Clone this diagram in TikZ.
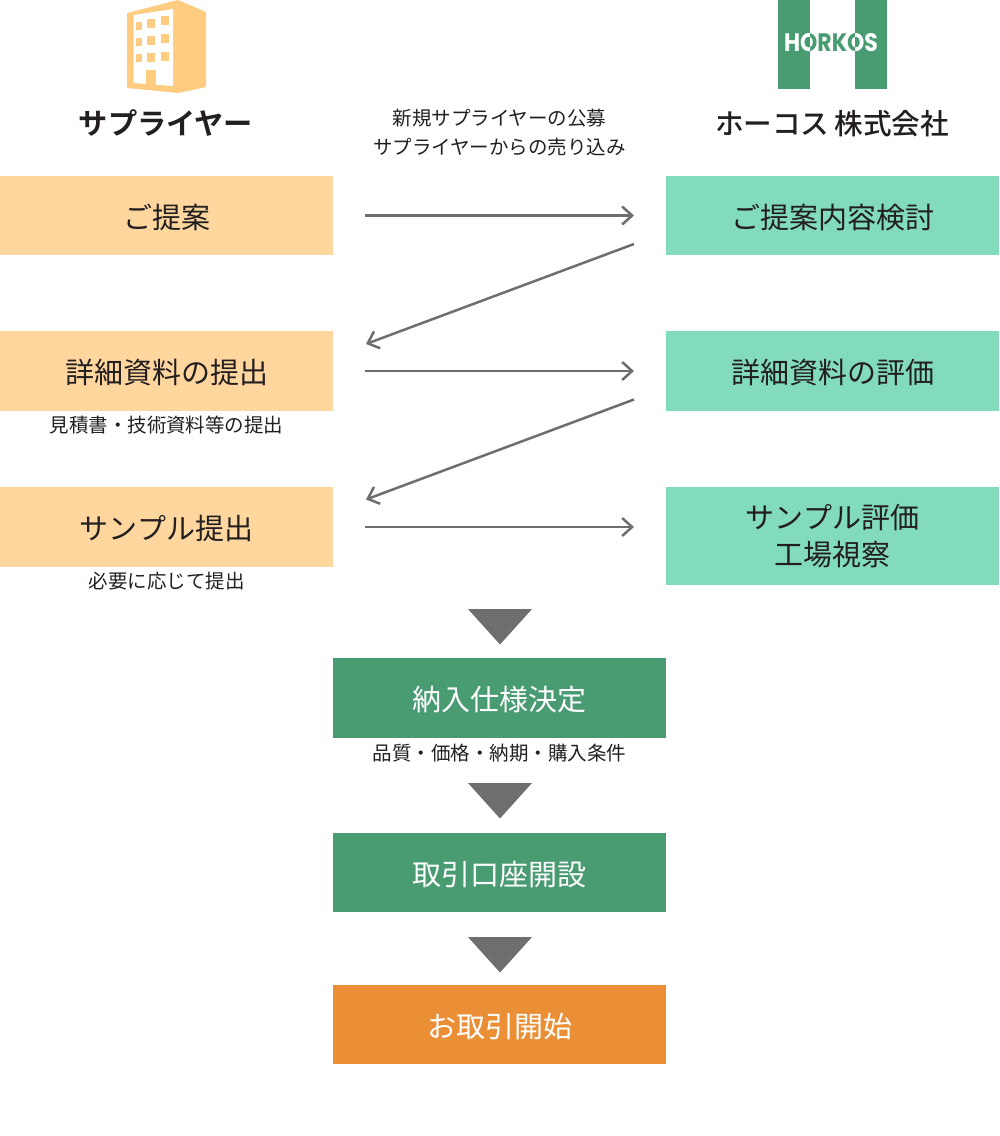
\documentclass[tikz,border=0pt]{standalone}
\usepackage{fontspec}
\setmainfont{Noto Sans CJK JP}
\newfontfamily\jpbold{Noto Sans CJK JP Bold}
\newfontfamily\jpmedium{Noto Sans CJK JP Medium}
\newfontfamily\logofont{Poppins}[BoldFont={Poppins Bold}]
\usetikzlibrary{arrows.meta}
\definecolor{supbox}{HTML}{FFD79E}
\definecolor{horbox}{HTML}{82DBBB}
\definecolor{decbox}{HTML}{499B72}
\definecolor{startbox}{HTML}{EA8F36}
\definecolor{flowgray}{HTML}{6E6E6E}
\definecolor{bldg}{HTML}{FFCC80}
\definecolor{inktext}{HTML}{231F20}
\tikzset{
  x=1pt,y=-1pt,
  flowbox/.style={minimum width=333pt,inner sep=0pt,outer sep=0pt,anchor=north west,align=center,font=\fontsize{29}{37}\selectfont,text=inktext},
  oneline/.style={text height=27pt,text depth=1.7pt},
  supnode/.style={flowbox,oneline,fill=supbox,minimum height=79pt},
  hornode/.style={flowbox,oneline,fill=horbox,minimum height=79pt},
  hortall/.style={flowbox,fill=horbox,minimum height=98pt},
  decnode/.style={flowbox,oneline,fill=decbox,minimum height=79pt,text=white},
  startnode/.style={flowbox,oneline,fill=startbox,minimum height=79pt,text=white},
  note/.style={inner sep=0pt,align=center,font=\fontsize{19.5}{29}\selectfont,text=inktext},
  heading/.style={inner sep=0pt,text=inktext},
  flowarrow/.style={draw=flowgray,line width=2.5pt,-{Straight Barb[length=10pt,width=18pt,line width=2.5pt]}},
  downtri/.style={fill=flowgray,draw=none},
  logoword/.style={inner sep=0pt,yscale=1.15,font=\logofont\bfseries\fontsize{22}{22}\selectfont},
}
\begin{document}
\begin{tikzpicture}
\useasboundingbox (0,0) rectangle (1000,1136);

% building icon
\fill[bldg,rounded corners=1pt] (127,13) -- (178,0) -- (206,12) -- (206,87) -- (178,93) -- (127,88) -- cycle;
\fill[white] (133.5,15) -- (173,9) -- (173,86) -- (133.5,83) -- cycle;
\fill[bldg] (136,21.5) rectangle (142,30);
\fill[bldg] (147,18.5) rectangle (155,27.5);
\fill[bldg] (161,15.5) rectangle (169,25);
\fill[bldg] (136,37.5) rectangle (142,46);
\fill[bldg] (147,35.5) rectangle (155,44.5);
\fill[bldg] (161,33.5) rectangle (169,43);
\fill[bldg] (136,54) rectangle (142,62);
\fill[bldg] (147,53) rectangle (155,62);
\fill[bldg] (161,52) rectangle (169,61);
\fill[bldg] (146,69.5) rectangle (156,84.5);

% HORKOS logo
\fill[decbox] (778,0) rectangle (809.5,88.5);
\fill[decbox] (855,0) rectangle (887,88.5);
\node[logoword,text=decbox] (logotext) at (831,43) {HORKOS};
\begin{scope}
  \clip (778,0) rectangle (809.5,88.5) (855,0) rectangle (887,88.5);
  \node[logoword,text=white] (logotextw) at (831,43) {HORKOS};
\end{scope}

% headings
\node[heading,font=\jpbold\fontsize{29.2}{34}\selectfont] (suphead) at (166,123) {サプライヤー};
\node[heading,font=\jpmedium\fontsize{28.6}{34}\selectfont] (horhead) at (832,124) {ホーコス\hspace{5pt}株式会社};
\node[note] (route) at (499.5,133) {新規サプライヤーの公募\\サプライヤーからの売り込み};

% supplier column
\node[supnode] (s1) at (0,176) {ご提案};
\node[supnode,minimum height=80pt] (s2) at (0,331) {詳細資料の提出};
\node[supnode,minimum height=80pt] (s3) at (0,487) {サンプル提出};
\node[note] (n2) at (166.5,425.5) {見積書・技術資料等の提出};
\node[note] (n3) at (166.5,581.5) {必要に応じて提出};

% horkos column
\node[hornode] (h1) at (666,176) {ご提案内容検討};
\node[hornode,minimum height=80pt] (h2) at (666,331) {詳細資料の評価};
\node[hortall] (h3) at (666,487) {サンプル評価\\工場視察};

% arrows
\draw[flowarrow,shorten <=32pt,shorten >=32pt] (s1.east) -- (h1.west);
\draw[flowarrow,shorten <=32pt,shorten >=32pt] (s2.east) -- (h2.west);
\draw[flowarrow,shorten <=32pt,shorten >=32pt] (s3.east) -- (h3.west |- s3.east);
\coordinate (d1a) at (634,244);
\coordinate (d1b) at (366,344);
\coordinate (d2a) at (634,399.5);
\coordinate (d2b) at (366,499.5);
\draw[flowarrow] (d1a) -- (d1b);
\draw[flowarrow] (d2a) -- (d2b);

% centre flow
\node[decnode,minimum height=80pt] (c1) at (333,658) {納入仕様決定};
\node[decnode] (c2) at (333,833) {取引口座開設};
\node[startnode] (c3) at (333,985) {お取引開始};
\node[note] (n4) at (499.5,753) {品質・価格・納期・購入条件};

\fill[downtri] (468,609) -- (532,609) -- (500,644.5) -- cycle;
\fill[downtri] (468,783) -- (532,783) -- (500,818.5) -- cycle;
\fill[downtri] (468,937) -- (532,937) -- (500,972.5) -- cycle;
\end{tikzpicture}
\end{document}
